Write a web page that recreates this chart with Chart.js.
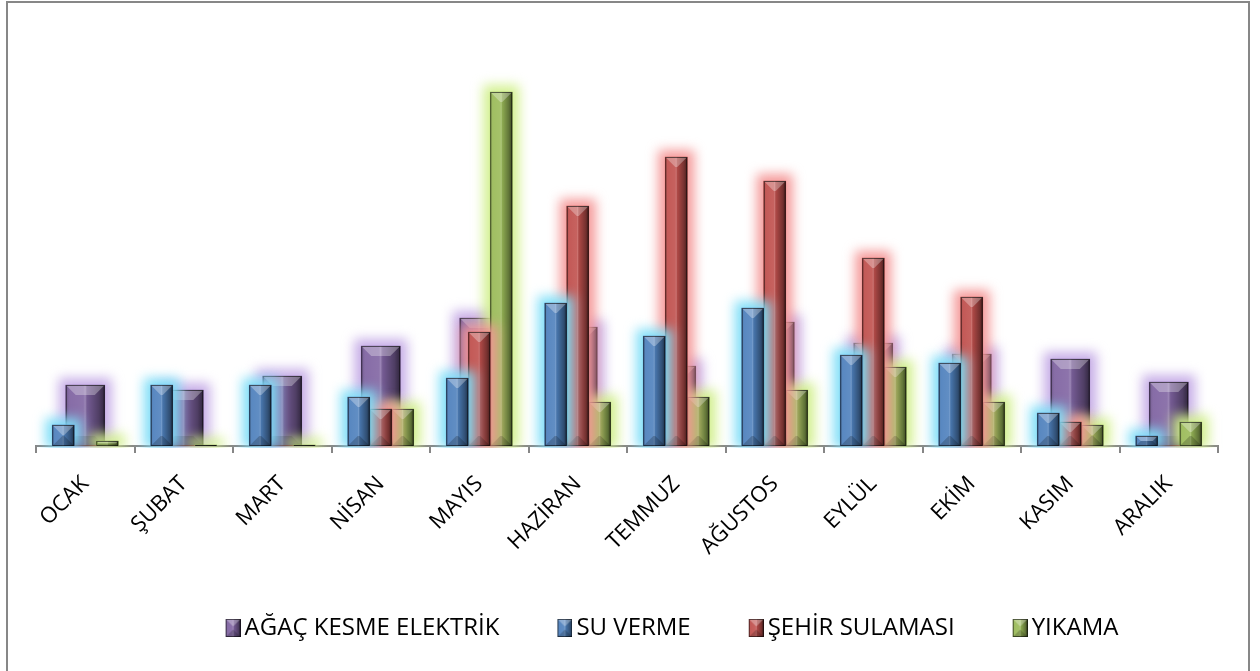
<!DOCTYPE html>
<html><head><meta charset="utf-8">
<script src="https://cdn.jsdelivr.net/npm/chart.js@4.4.1/dist/chart.umd.min.js"></script>
<style>html,body{margin:0;padding:0;background:#fff;}#wrap{width:1260px;height:671px;position:relative;}</style>
</head><body><div id="wrap"><canvas id="c" width="1260" height="671"></canvas></div>
<script>
const months = ['OCAK','ŞUBAT','MART','NİSAN','MAYIS','HAZİRAN','TEMMUZ','AĞUSTOS','EYLÜL','EKİM','KASIM','ARALIK'];
const seriesNames = ['AĞAÇ KESME ELEKTRİK','SU VERME','ŞEHİR SULAMASI','YIKAMA'];
const agacKesme = [61,56,70,100,128,119,80,124,103,92,87,64];
const suVerme = [21,61,61,49,68,143,110,138,91,83,33,10];
const sehirSulamasi = [0,0,0,37,114,240,289,265,188,149,24,0];
const yikama = [5,1,1,37,354,44,49,56,79,44,21,24];

const COLORS = ['#8064A2','#4F81BD','#C0504D','#9BBB59'];
const GLOWS = ['rgba(196,170,230,0.95)','rgba(125,222,248,0.95)','rgba(244,150,150,0.95)','rgba(210,240,140,0.95)'];

function shadeRect(ctx,l,top,w,h){
  const r=l+w, base=top+h;
  const g=ctx.createLinearGradient(l,0,r,0);
  g.addColorStop(0,'rgba(0,0,0,0.18)');
  g.addColorStop(0.12,'rgba(255,255,255,0.06)');
  g.addColorStop(0.45,'rgba(255,255,255,0.10)');
  g.addColorStop(0.5,'rgba(255,255,255,0.22)');
  g.addColorStop(0.56,'rgba(0,0,0,0.10)');
  g.addColorStop(0.85,'rgba(0,0,0,0.38)');
  g.addColorStop(1,'rgba(0,0,0,0.62)');
  ctx.fillStyle=g; ctx.fillRect(l,top,w,h);
  const d=Math.min(10,w/2,h/2);
  ctx.beginPath(); ctx.moveTo(l,top); ctx.lineTo(r,top); ctx.lineTo(r-d,top+d); ctx.lineTo(l+d,top+d); ctx.closePath();
  ctx.fillStyle='rgba(255,255,255,0.3)'; ctx.fill();
  ctx.beginPath(); ctx.moveTo(l,base); ctx.lineTo(r,base); ctx.lineTo(r-d,base-d); ctx.lineTo(l+d,base-d); ctx.closePath();
  ctx.fillStyle='rgba(0,0,0,0.2)'; ctx.fill();
  ctx.strokeStyle='rgba(0,0,0,0.55)'; ctx.lineWidth=1; ctx.strokeRect(l+0.5,top+0.5,w-1,h-1);
}

const legendIcons = COLORS.map(col=>{
  const cv=document.createElement('canvas'); cv.width=31; cv.height=18;
  const c=cv.getContext('2d'); c.fillStyle=col; c.fillRect(16,0,15,18); shadeRect(c,16,0,15,18);
  return cv;
});

const bevel = {
  id:'bevel',
  beforeDraw(chart){
    const ctx=chart.ctx; ctx.save(); ctx.strokeStyle='#878787'; ctx.lineWidth=2;
    ctx.strokeRect(7,2,1242,680); ctx.restore();
  },
  afterLayout(chart){
    const lg=chart.legend; if(lg){ lg.left+=41; lg.right+=41; }
  },
  beforeDatasetDraw(chart,args){
    const ctx=chart.ctx; const ca=chart.chartArea;
    const ci = chart.data.datasets[args.index].colorIdx;
    ctx.save();
    ctx.beginPath(); ctx.rect(ca.left-30,0,ca.right-ca.left+60,ca.bottom+2); ctx.clip();
    ctx.filter='blur(6px)'; ctx.fillStyle=GLOWS[ci];
    args.meta.data.forEach(el=>{
      const p=el.getProps(['x','y','base','width'],true);
      const h=p.base-p.y; if(h<0.5) return;
      const l=p.x-p.width/2;
      ctx.fillRect(l-7,p.y-7,p.width+14,h+9);
    });
    ctx.restore();
  },
  afterDatasetDraw(chart,args){
    const ctx=chart.ctx;
    args.meta.data.forEach(el=>{
      const p=el.getProps(['x','y','base','width'],true);
      const h=p.base-p.y; if(h<1) return;
      ctx.save();
      shadeRect(ctx,p.x-p.width/2,p.y,p.width,h);
      ctx.restore();
    });
  }
};

const valueSets=[agacKesme,suVerme,sehirSulamasi,yikama];
const datasets = valueSets.map((vals,i)=>({
  label: seriesNames[i],
  data: vals,
  colorIdx: i,
  backgroundColor: COLORS[i],
  borderColor: 'rgba(0,0,0,0.4)',
  borderWidth: 0,
  barThickness: i===0 ? 39 : 22,
  grouped: i!==0,
  order: i===0 ? 1 : 0
}));

new Chart(document.getElementById('c'),{
  type:'bar',
  data:{labels:months,datasets},
  plugins:[bevel],
  options:{
    responsive:false, animation:false,
    layout:{padding:{left:36,right:42,top:46,bottom:21}},
    plugins:{
      tooltip:{enabled:false},
      legend:{position:'bottom',
        labels:{font:{family:'Open Sans',size:24},color:'#000',boxWidth:15,boxHeight:18,padding:50,
          usePointStyle:true,pointStyleWidth:15,
          generateLabels:(chart)=>{
            const items=Chart.defaults.plugins.legend.labels.generateLabels(chart);
            items.forEach(it=>{ it.pointStyle=legendIcons[it.datasetIndex]; });
            return items;
          },
          sort:(a,b)=>a.datasetIndex-b.datasetIndex}}
    },
    scales:{
      y:{display:false,min:0,max:400},
      x:{
        offset:true,
        grid:{display:true,drawOnChartArea:false,drawTicks:true,tickLength:7,color:'#868686',lineWidth:2,offset:true},
        border:{display:true,color:'#868686',width:2},
        ticks:{font:{family:'Open Sans',size:22},color:'#000',minRotation:45,maxRotation:45,padding:18,autoSkip:false},
        afterFit:(s)=>{s.height=120;}
      }
    }
  }
});
</script></body></html>
